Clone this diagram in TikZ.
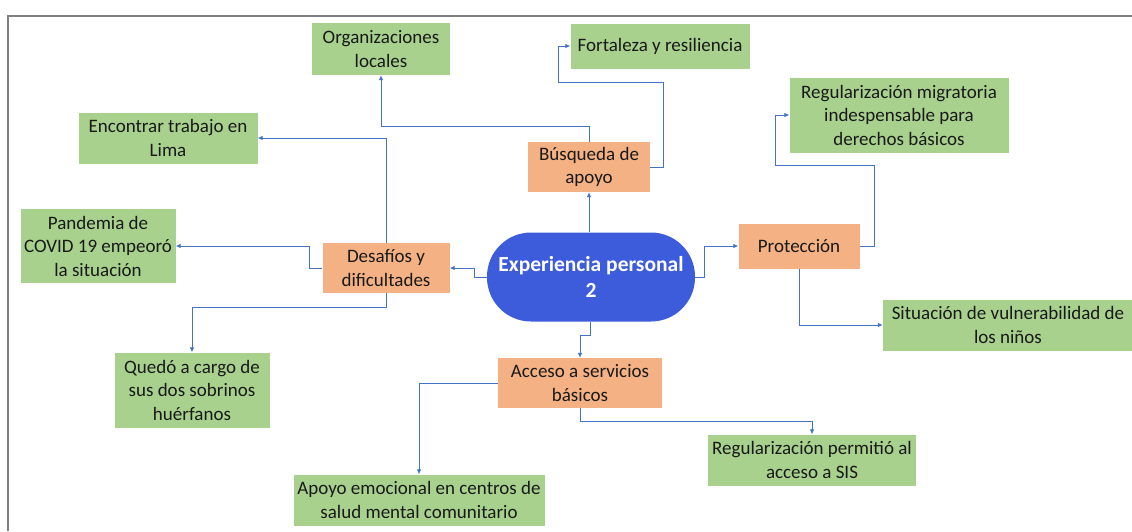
\documentclass[tikz,border=0pt]{standalone}
\usepackage{fontspec}
\setmainfont{Carlito}
\usetikzlibrary{arrows.meta}
\definecolor{boxgreen}{HTML}{A9D18E}
\definecolor{boxorange}{HTML}{F4B183}
\definecolor{expblue}{HTML}{3D5CDB}
\definecolor{linkblue}{HTML}{4472C4}
\definecolor{framegray}{HTML}{808080}
\tikzset{
  base/.style={inner sep=0pt, align=center, text=black!90,
    font=\fontsize{19}{23.5}\selectfont},
  leaf/.style={base, fill=boxgreen},
  topic/.style={base, fill=boxorange},
  core/.style={base, fill=expblue, rounded corners=44pt, text=white,
    font=\fontsize{21.5}{26}\selectfont\bfseries},
  arr/.style={draw=linkblue, line width=0.8pt, -{Latex[length=5pt,width=4.5pt]}},
}
\begin{document}
\begin{tikzpicture}[x=1pt,y=-1pt]
\useasboundingbox (0,0) rectangle (1132,531);
\draw[framegray, line width=1.4pt] (8,531) -- (8,16) -- (1132,16);

\node[leaf, minimum width=138pt, minimum height=52pt] (org) at (381,49) {Organizaciones\\locales};
\node[leaf, minimum width=179pt, minimum height=45pt] (fort) at (660,46) {Fortaleza y resiliencia};
\node[leaf, minimum width=179pt, minimum height=51pt] (enc) at (168,138) {Encontrar trabajo en\\Lima};
\node[topic, minimum width=122pt, minimum height=50pt] (bus) at (589,167) {Búsqueda de\\apoyo};
\node[leaf, minimum width=219pt, minimum height=75pt] (reg1) at (899,115) {Regularización migratoria\\indespensable para\\derechos básicos};
\node[leaf, minimum width=155pt, minimum height=74pt] (pan) at (98,246) {Pandemia de\\COVID 19 empeoró\\la situación};
\node[topic, minimum width=127pt, minimum height=50pt] (des) at (386,268) {Desafíos y\\dificultades};
\node[core, minimum width=208pt, minimum height=89pt] (exp) at (591,277) {Experiencia personal\\2};
\node[topic, minimum width=121pt, minimum height=45pt] (pro) at (799,246) {Protección};
\node[leaf, minimum width=250pt, minimum height=51pt] (sit) at (1008,325) {Situación de vulnerabilidad de\\los niños};
\node[topic, minimum width=164pt, minimum height=50pt] (acc) at (580,383) {Acceso a servicios\\básicos};
\node[leaf, minimum width=155pt, minimum height=75pt] (que) at (192,390) {Quedó a cargo de\\sus dos sobrinos\\huérfanos};
\node[leaf, minimum width=208pt, minimum height=51pt] (regp) at (812,460) {Regularización permitió al\\acceso a SIS};
\node[leaf, minimum width=251pt, minimum height=51pt] (apo) at (419,500) {Apoyo emocional en centros de\\salud mental comunitario};

\draw[arr] ([xshift=-2pt]exp.north) -- (bus.south);
\draw[arr] (bus.north) -- ++(0,-15) -| (org.south);
\draw[arr] (bus.east) -- ++(13,0) -- ++(0,-85) -| ([xshift=-12pt]fort.west) -- (fort.west);
\draw[arr] (exp.west) -- ++(-12,0) |- (des.east);
\draw[arr] (des.north) |- (enc.east);
\draw[arr] (des.west) -- ++(-13,0) |- (pan.east);
\draw[arr] (des.south) -- ++(0,14) -| (que.north);
\draw[arr] (exp.east) -- ++(9,0) |- (pro.west);
\draw[arr] (pro.east) -- ++(15,0) -- ++(0,-81) -| ([xshift=-14pt]reg1.west) -- (reg1.west);
\draw[arr] (pro.south) |- (sit.west);
\draw[arr] ([xshift=-1pt]exp.south) -- ++(0,14) -| (acc.north);
\draw[arr] (acc.west) -| (apo.north);
\draw[arr] (acc.south) -- ++(0,13) -| (regp.north);
\end{tikzpicture}
\end{document}
